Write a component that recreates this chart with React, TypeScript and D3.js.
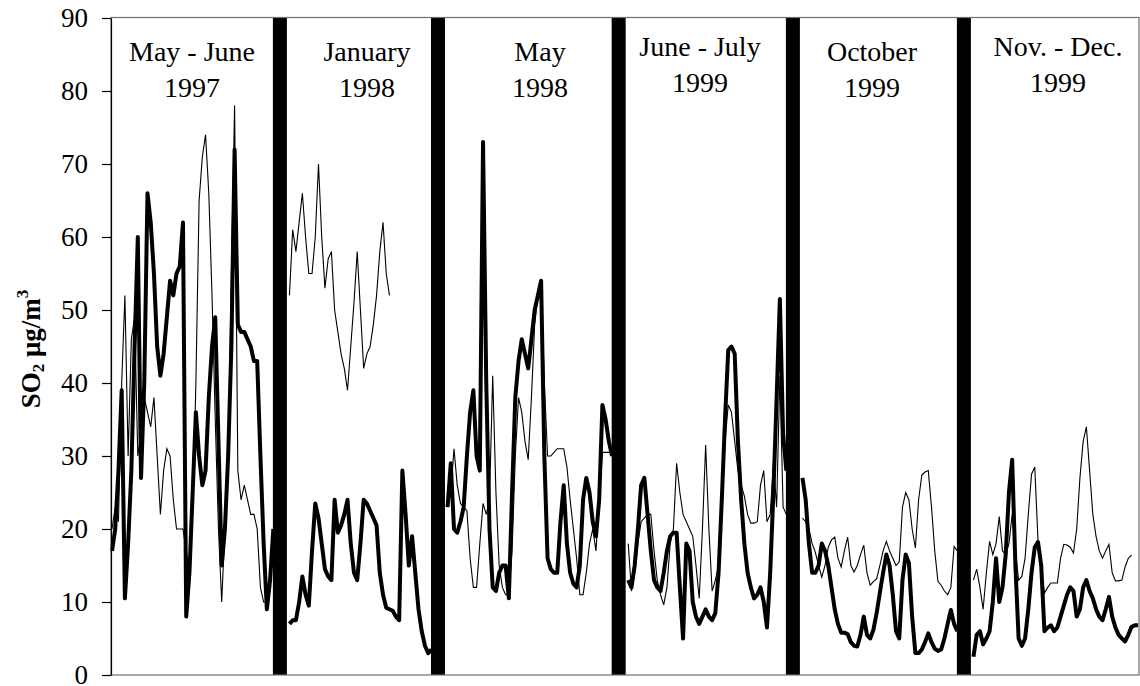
import React, { useEffect, useRef } from "react";
import * as d3 from "d3";

// campaign periods (title, year)
const periods = [
  ["May - June", "1997"],
  ["January", "1998"],
  ["May", "1998"],
  ["June - July", "1999"],
  ["October", "1999"],
  ["Nov. - Dec.", "1999"],
];

const yTicks = [0, 10, 20, 30, 40, 50, 60, 70, 80, 90];

// thick series, daily SO2 values per period
const thick1 = [17, 20, 28, 39, 10.5, 18, 28, 45, 60, 27, 40, 66, 62, 55, 45, 41, 44, 49, 54, 52, 55, 56, 62, 8, 14, 25, 36, 30, 26, 28, 38, 45, 49, 32, 15, 20, 30, 45, 72, 48, 47, 47, 46, 45, 43, 43, 30, 18, 9, 13, 20];
const thick2 = [7, 7.5, 7.5, 10, 13.5, 11, 9.5, 17, 23.5, 21.5, 18, 14.5, 13.5, 13, 24, 19.5, 20.5, 22, 24, 18, 14, 13, 18, 24, 23.5, 22.5, 21.5, 20.5, 14, 11, 9.2, 9, 8.8, 8, 7.5, 28, 22, 15, 19, 14, 9, 6, 4, 3, 3.5];
const thick3 = [23, 29, 20, 19.5, 21, 23, 30, 36, 39, 30, 28, 73, 40, 20, 12, 11.5, 14, 15, 15, 10.5, 25, 38, 43, 46, 44, 42, 46, 50, 52, 54, 30, 16, 14.5, 14, 14, 21, 26, 18, 14, 12.5, 12, 15, 24, 27, 25, 21, 19, 24, 37, 35, 32, 30];
const thick4 = [13, 12, 15, 20, 26, 27, 22, 17, 13, 12, 11.5, 14, 17, 19, 19.5, 19.5, 12, 5, 18, 17, 10, 8, 7, 8, 9, 8, 7.5, 8.5, 14, 24, 35, 44.5, 45, 44, 32, 24, 18, 14, 12, 10.5, 11, 12, 10, 6.5, 14, 25, 38, 51.5, 33, 28];
const thick5 = [27, 24, 18, 14, 14, 15, 18, 17, 15, 12, 9, 7, 5.8, 5.8, 5.6, 4.5, 4, 3.9, 5.5, 8, 5.5, 5, 6.2, 8.5, 11.3, 14, 16.5, 15, 11, 6, 5, 13, 16.5, 15.3, 8, 3, 3, 3.5, 4.5, 5.7, 4.5, 3.6, 3.3, 3.5, 5, 7, 8.9, 7, 6];
const thick6 = [2.5, 5.5, 6, 4.2, 5, 6, 10, 16, 10, 12, 16.5, 25, 29.5, 15, 5, 4, 5, 9, 14, 17.5, 18.2, 15, 6, 6.5, 6.8, 6, 6.5, 8, 9.5, 11, 12, 11.5, 8, 9, 12, 13, 11.5, 10.5, 9, 8, 7.5, 9, 10.7, 8, 6.5, 5.5, 5, 4.6, 5.5, 6.6, 6.8, 6.8];

// thin series
const thin1 = [20, 23, 21, 40, 52, 30, 46, 49, 30, 33, 38, 36, 34, 38, 30, 22, 28, 31, 30, 24, 20, 20, 20, 17, 14, 22, 40, 65, 71, 74, 66, 52, 35, 20, 10, 20, 30, 55, 78, 28, 24, 26, 24, 22, 22, 20, 12, 10, 10, 14, 18];
const thin2 = [52, 61, 58, 62, 66, 60, 55, 55, 60, 70, 60, 53, 57, 58, 50, 47, 44, 42, 39, 45, 51, 58, 50, 42, 44, 45, 48, 52, 58, 62, 55, 52];
const thin3 = [23, 25, 31, 26, 23.5, 23, 22.5, 16, 12, 12, 18, 23.5, 22, 24, 41, 25, 15, 12, 11, 11, 17, 30, 38, 36, 32, 29.5, 38, 48, 52, 54, 40, 30, 30, 30.5, 31, 31, 31, 28.5, 24, 20, 16, 11, 11, 14, 18, 20, 17, 24, 30.5, 30.5, 30.5, 30.5];
const thin4 = [18, 11.5, 14, 18, 21, 21.5, 22, 22, 17, 13, 11, 9.6, 12, 18, 20, 29, 25, 22, 21, 20, 19, 15, 10.5, 20, 31.5, 20, 11.5, 13, 15, 22, 32, 37, 36, 32, 28, 26, 24.5, 22, 20.8, 20.8, 21, 26, 28, 21, 22, 29, 23, 41, 23, 22];
const thin5 = [21.5, 21, 20, 18, 16.8, 15, 13.4, 15, 17.5, 18.5, 18.9, 16, 14.8, 17, 18.9, 15, 14.1, 15, 16.5, 17.8, 14, 12.3, 12.8, 13.2, 15, 17, 18.3, 17, 16, 15, 15.5, 23, 25, 24, 20, 17.4, 24, 27.4, 27.8, 28, 23, 17, 12.8, 12.3, 11.5, 11, 12, 17.6, 17];
const thin6 = [13, 14.5, 12, 9, 14, 18.3, 16.5, 18, 21.7, 17, 16.5, 18, 22, 17, 13, 13.5, 16, 22, 27.5, 28.5, 18.5, 15, 11.2, 12, 12.6, 12.6, 12.6, 16, 17.9, 17.8, 17.5, 16.7, 20, 27, 32, 34, 28, 22, 19, 17, 16, 17, 17.9, 14, 12.9, 12.9, 13, 14.8, 16, 16.4];

const thickSeries = [thick1, thick2, thick3, thick4, thick5, thick6];
const thinSeries = [thin1, thin2, thin3, thin4, thin5, thin6];

// layout for the period titles
const titleX = [192, 367, 540, 700, 872, 1058];
const titleY = [61, 61, 61, 56, 61, 56];
const FONT = "'Liberation Serif', 'Times New Roman', serif";

export default function App() {
  const ref = useRef<SVGSVGElement>(null);

  useEffect(() => {
    const svg = d3.select(ref.current);
    svg.selectAll("*").remove();

    const left = 111;
    const right = 1139;
    const top = 18;
    const bottom = 675;
    const GAP = 5; // empty day slots taken by a separator

    const offsets: number[] = [];
    let o = 0;
    thickSeries.forEach((s) => {
      offsets.push(o);
      o += s.length - 1 + GAP;
    });
    const lastIndex = offsets[5] + thickSeries[5].length - 1;

    const x = d3.scaleLinear().domain([0, lastIndex]).range([left + 1, right - 1]);
    const y = d3.scaleLinear().domain([0, 90]).range([bottom, top]);

    const line = d3
      .line<[number, number]>()
      .x((d) => x(d[0]))
      .y((d) => y(d[1]));

    // thin lines
    thinSeries.forEach((s, k) => {
      svg
        .append("path")
        .attr("d", line(s.map((v, i) => [offsets[k] + i, v] as [number, number])))
        .attr("fill", "none")
        .attr("stroke", "#000")
        .attr("stroke-width", 1.1);
    });

    // thick lines
    thickSeries.forEach((s, k) => {
      svg
        .append("path")
        .attr("d", line(s.map((v, i) => [offsets[k] + i, v] as [number, number])))
        .attr("fill", "none")
        .attr("stroke", "#000")
        .attr("stroke-width", 4)
        .attr("stroke-linejoin", "round");
    });

    // separators between periods
    offsets.slice(1).forEach((off) => {
      const xc = x(off - GAP / 2) - 1.5;
      svg
        .append("rect")
        .attr("x", xc - 7)
        .attr("y", top)
        .attr("width", 14)
        .attr("height", bottom - top)
        .attr("fill", "#000");
    });

    // plot frame
    svg
      .append("rect")
      .attr("x", left)
      .attr("y", top - 0.5)
      .attr("width", right - left)
      .attr("height", bottom - top + 0.5)
      .attr("fill", "none")
      .attr("stroke", "#6e6e6e")
      .attr("stroke-width", 1.2);

    // y axis
    const yAxis = d3.axisLeft(y).tickValues(yTicks).tickSize(9).tickSizeOuter(0).tickPadding(14);
    const g = svg.append("g").attr("transform", "translate(" + left + ",0)").call(yAxis);
    g.select(".domain").attr("stroke", "#000").attr("stroke-width", 1.2);
    g.selectAll(".tick line").attr("stroke", "#000").attr("stroke-width", 1.2);
    g.selectAll(".tick text")
      .attr("font-family", FONT)
      .attr("font-size", 27)
      .attr("fill", "#000");

    // y axis title
    const t = svg
      .append("text")
      .attr("transform", "translate(40,349) rotate(-90)")
      .attr("text-anchor", "middle")
      .attr("font-family", FONT)
      .attr("font-size", 27)
      .attr("font-weight", "bold");
    t.append("tspan").text("SO");
    t.append("tspan").attr("font-size", 17).attr("dy", 4).text("2");
    t.append("tspan").attr("dy", -4).text(" μg/m");
    t.append("tspan").attr("font-size", 17).attr("dy", -12).text("3");

    // period titles
    periods.forEach((p, k) => {
      svg
        .append("text")
        .attr("x", titleX[k])
        .attr("y", titleY[k])
        .attr("text-anchor", "middle")
        .attr("font-family", FONT)
        .attr("font-size", 28)
        .text(p[0]);
      svg
        .append("text")
        .attr("x", titleX[k])
        .attr("y", titleY[k] + 36)
        .attr("text-anchor", "middle")
        .attr("font-family", FONT)
        .attr("font-size", 28)
        .text(p[1]);
    });
  }, []);

  return (
    <>
      <style>{"body{margin:0}"}</style>
      <svg ref={ref} width={1140} height={686} style={{ display: "block", background: "#fff" }} />
    </>
  );
}
